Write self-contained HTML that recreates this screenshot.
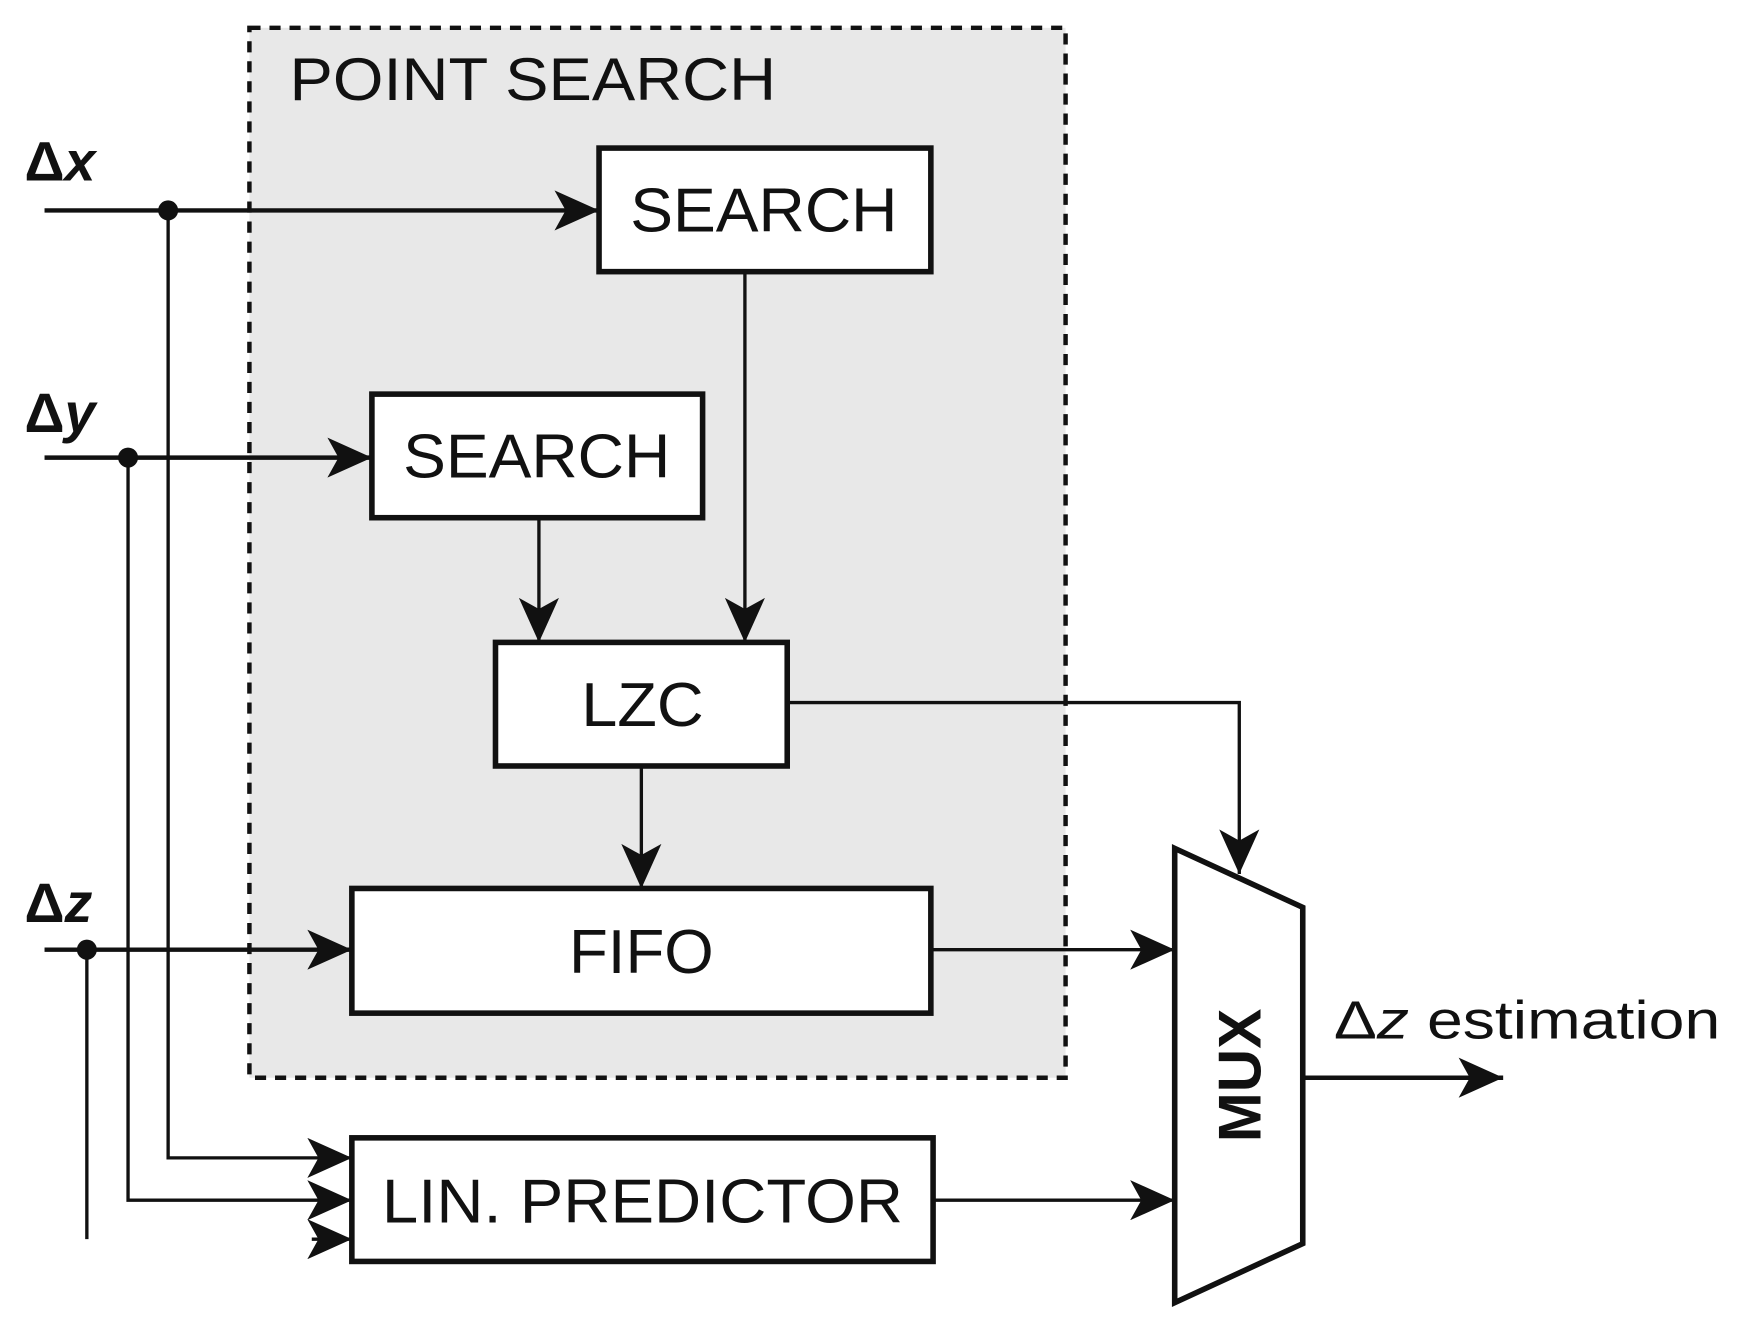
<!DOCTYPE html>
<html><head><meta charset="utf-8"><style>
html,body{margin:0;padding:0;background:#fff;}
svg{display:block;}
text{font-family:"Liberation Sans",sans-serif;fill:#111;}
</style></head><body>
<svg width="1737" height="1326" viewBox="0 0 1560 1191" preserveAspectRatio="none" xmlns="http://www.w3.org/2000/svg">
<defs>
<marker id="a" viewBox="0 0 40 36" refX="40" refY="18" markerWidth="40" markerHeight="36" markerUnits="userSpaceOnUse" orient="auto">
<path d="M0,0 L40,18 L0,36 L10,18 Z" fill="#111"/>
</marker>
</defs>
<rect x="224" y="25" width="733" height="943" fill="#e8e8e8" stroke="#111" stroke-width="4" stroke-dasharray="10,8"/>
<text x="260" y="90" font-size="54" textLength="437" lengthAdjust="spacingAndGlyphs">POINT SEARCH</text>

<g stroke="#111" stroke-width="3" fill="none">
<line x1="40" y1="189" x2="538" y2="189" stroke-width="4" marker-end="url(#a)"/>
<line x1="40" y1="411" x2="334" y2="411" stroke-width="4" marker-end="url(#a)"/>
<line x1="40" y1="853" x2="316" y2="853" stroke-width="4" marker-end="url(#a)"/>
<line x1="669" y1="244" x2="669" y2="577" marker-end="url(#a)"/>
<line x1="484" y1="465" x2="484" y2="577" marker-end="url(#a)"/>
<line x1="576" y1="688" x2="576" y2="798" marker-end="url(#a)"/>
<polyline points="707,631 1113,631 1113,785" marker-end="url(#a)"/>
<line x1="836" y1="853" x2="1055" y2="853" marker-end="url(#a)"/>
<line x1="838" y1="1078" x2="1055" y2="1078" marker-end="url(#a)"/>
<line x1="1170" y1="968" x2="1350" y2="968" stroke-width="4" marker-end="url(#a)"/>
<polyline points="151,189 151,1040 316,1040" marker-end="url(#a)"/>
<polyline points="115,411 115,1078 316,1078" marker-end="url(#a)"/>
<line x1="78" y1="853" x2="78" y2="1113"/>
<line x1="280" y1="1113" x2="316" y2="1113" marker-end="url(#a)"/>
</g>
<circle cx="151" cy="189" r="9" fill="#111"/>
<circle cx="115" cy="411" r="9" fill="#111"/>
<circle cx="78" cy="853" r="9" fill="#111"/>

<g fill="#fff" stroke="#111" stroke-width="5">
<rect x="538" y="133" width="298" height="111"/>
<rect x="334" y="354" width="297" height="111"/>
<rect x="445" y="577" width="262" height="111"/>
<rect x="316" y="798" width="520" height="112"/>
<rect x="316" y="1022" width="522" height="111"/>
<polygon points="1055,762 1170,815 1170,1117 1055,1170"/>
</g>
<g font-size="56">
<text x="566" y="208" textLength="240" lengthAdjust="spacingAndGlyphs">SEARCH</text>
<text x="362" y="429" textLength="240" lengthAdjust="spacingAndGlyphs">SEARCH</text>
<text x="522" y="652" textLength="110" lengthAdjust="spacingAndGlyphs">LZC</text>
<text x="511" y="874" textLength="130" lengthAdjust="spacingAndGlyphs">FIFO</text>
<text x="343" y="1098" textLength="468" lengthAdjust="spacingAndGlyphs">LIN. PREDICTOR</text>
</g>
<text x="0" y="0" font-size="54" font-weight="bold" text-anchor="middle" transform="translate(1132,966) rotate(-90)">MUX</text>
<text x="22" y="162" font-size="50" font-weight="bold">Δ<tspan font-style="italic">x</tspan></text>
<text x="22" y="388" font-size="50" font-weight="bold">Δ<tspan font-style="italic">y</tspan></text>
<text x="22" y="828" font-size="50" font-weight="bold">Δ<tspan font-style="italic">z</tspan></text>
<text x="1198" y="933" font-size="48" textLength="347" lengthAdjust="spacingAndGlyphs">Δ<tspan font-style="italic">z</tspan> estimation</text>
</svg>
</body></html>
